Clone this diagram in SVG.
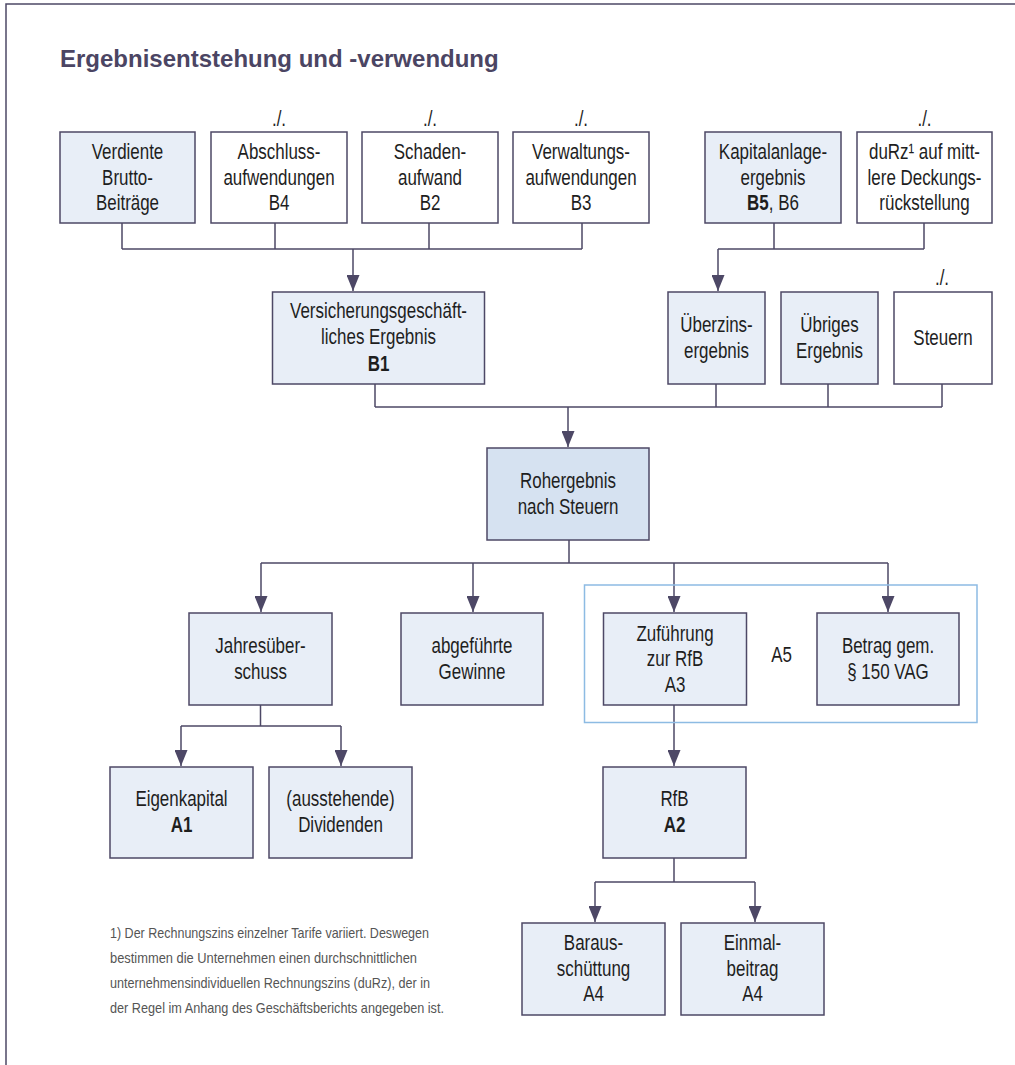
<svg xmlns="http://www.w3.org/2000/svg" width="1015" height="1065" viewBox="0 0 1015 1065">
<style>
.bx{stroke:#4d4866;stroke-width:1.5}
.b{fill:#e8eef7}
.w{fill:#ffffff}
.d{fill:#d6e2f1}
.t{font-family:"Liberation Sans",Arial,sans-serif;font-size:22px;fill:#1e1e1e;text-anchor:middle}
.bd{font-weight:bold}
.c{fill:none;stroke:#4d4866;stroke-width:1.5}
.a{marker-end:url(#arr)}
.fn{font-family:"Liberation Sans",Arial,sans-serif;font-size:15px;fill:#555555}
.ttl{font-family:"Liberation Sans",Arial,sans-serif;font-size:24px;font-weight:bold;fill:#4b4563}
</style>
<defs>
<marker id="arr" viewBox="0 0 16 13" refX="16" refY="6.5" markerWidth="16" markerHeight="13" markerUnits="userSpaceOnUse" orient="auto">
<path d="M0,0 L16,6.5 L0,13 z" fill="#4d4866"/>
</marker>
</defs>
<rect x="0" y="0" width="1015" height="1065" fill="#ffffff"/>
<path d="M6,1065 V4 H1015" fill="none" stroke="#4d4866" stroke-width="1.5"/>
<text class="ttl" x="60" y="67">Ergebnisentstehung und -verwendung</text>

<g id="connectors">
<path class="c" d="M122,223 V249 M275,223 V249 M429,223 V249 M582,223 V249 M122,249 H582"/>
<path class="c a" d="M353,249 V291"/>
<path class="c" d="M774,223 V249 M924,223 V249 M718,249 H924"/>
<path class="c a" d="M718,249 V291"/>
<path class="c" d="M375,384 V407 M716,384 V407 M828,384 V407 M942,384 V407 M375,407 H942"/>
<path class="c a" d="M568,407 V447"/>
<path class="c" d="M569,540 V563 M261,563 H888"/>
<path class="c a" d="M261,563 V612"/>
<path class="c a" d="M473,563 V612"/>
<path class="c a" d="M674,563 V612"/>
<path class="c a" d="M888,563 V612"/>
<path class="c" d="M260.5,705 V726 M181,726 H341"/>
<path class="c a" d="M181,726 V766"/>
<path class="c a" d="M341,726 V766"/>
<path class="c a" d="M674,705 V766"/>
<path class="c" d="M674,858 V882 M595,882 H755"/>
<path class="c a" d="M595,882 V922"/>
<path class="c a" d="M755,882 V922"/>
</g>

<g id="n-verdiente">
<rect class="bx b" x="60" y="132" width="135" height="91"/>
<text class="t" transform="translate(127.5 159) scale(.77 1)">Verdiente</text>
<text class="t" transform="translate(127.5 184.5) scale(.77 1)">Brutto-</text>
<text class="t" transform="translate(127.5 210) scale(.77 1)">Beiträge</text>
</g>
<g id="n-abschluss">
<text class="t" transform="translate(279 126) scale(.77 1)">./.</text>
<rect class="bx w" x="211" y="132" width="136" height="91"/>
<text class="t" transform="translate(279 159) scale(.77 1)">Abschluss-</text>
<text class="t" transform="translate(279 184.5) scale(.77 1)">aufwendungen</text>
<text class="t" transform="translate(279 210) scale(.77 1)">B4</text>
</g>
<g id="n-schaden">
<text class="t" transform="translate(430 126) scale(.77 1)">./.</text>
<rect class="bx w" x="362" y="132" width="136" height="91"/>
<text class="t" transform="translate(430 159) scale(.77 1)">Schaden-</text>
<text class="t" transform="translate(430 184.5) scale(.77 1)">aufwand</text>
<text class="t" transform="translate(430 210) scale(.77 1)">B2</text>
</g>
<g id="n-verwaltung">
<text class="t" transform="translate(581 126) scale(.77 1)">./.</text>
<rect class="bx w" x="513" y="132" width="136" height="91"/>
<text class="t" transform="translate(581 159) scale(.77 1)">Verwaltungs-</text>
<text class="t" transform="translate(581 184.5) scale(.77 1)">aufwendungen</text>
<text class="t" transform="translate(581 210) scale(.77 1)">B3</text>
</g>
<g id="n-kapitalanlage">
<rect class="bx b" x="705" y="132" width="136" height="91"/>
<text class="t" transform="translate(773 159) scale(.77 1)">Kapitalanlage-</text>
<text class="t" transform="translate(773 184.5) scale(.77 1)">ergebnis</text>
<text class="t" transform="translate(773 210) scale(.77 1)"><tspan class="bd">B5</tspan>, B6</text>
</g>
<g id="n-durz">
<text class="t" transform="translate(924.5 126) scale(.77 1)">./.</text>
<rect class="bx w" x="857" y="132" width="135" height="91"/>
<text class="t" transform="translate(924.5 159) scale(.77 1)">duRz¹ auf mitt-</text>
<text class="t" transform="translate(924.5 184.5) scale(.77 1)">lere Deckungs-</text>
<text class="t" transform="translate(924.5 210) scale(.77 1)">rückstellung</text>
</g>

<g id="n-versicherung">
<rect class="bx b" x="272.5" y="292" width="212" height="92"/>
<text class="t" transform="translate(378.5 318) scale(.77 1)">Versicherungsgeschäft-</text>
<text class="t" transform="translate(378.5 344) scale(.77 1)">liches Ergebnis</text>
<text class="t bd" transform="translate(378.5 370.5) scale(.77 1)">B1</text>
</g>
<g id="n-ueberzins">
<rect class="bx b" x="668" y="292" width="97" height="92"/>
<text class="t" transform="translate(716.5 332) scale(.77 1)">Überzins-</text>
<text class="t" transform="translate(716.5 358) scale(.77 1)">ergebnis</text>
</g>
<g id="n-uebriges">
<rect class="bx b" x="781" y="292" width="97" height="92"/>
<text class="t" transform="translate(829.5 332) scale(.77 1)">Übriges</text>
<text class="t" transform="translate(829.5 358) scale(.77 1)">Ergebnis</text>
</g>
<g id="n-steuern">
<text class="t" transform="translate(942 285) scale(.77 1)">./.</text>
<rect class="bx w" x="894" y="292" width="98" height="92"/>
<text class="t" transform="translate(943 345) scale(.77 1)">Steuern</text>
</g>

<g id="n-rohergebnis">
<rect class="bx d" x="487" y="448" width="162" height="92"/>
<text class="t" transform="translate(568 488) scale(.77 1)">Rohergebnis</text>
<text class="t" transform="translate(568 513.5) scale(.77 1)">nach Steuern</text>
</g>

<g id="n-jahres">
<rect class="bx b" x="189" y="613" width="143" height="92"/>
<text class="t" transform="translate(260.5 653) scale(.77 1)">Jahresüber-</text>
<text class="t" transform="translate(260.5 678.5) scale(.77 1)">schuss</text>
</g>
<g id="n-abgefuehrt">
<rect class="bx b" x="401" y="613" width="142" height="92"/>
<text class="t" transform="translate(472 653) scale(.77 1)">abgeführte</text>
<text class="t" transform="translate(472 678.5) scale(.77 1)">Gewinne</text>
</g>
<g id="n-a5">
<rect x="584.5" y="585" width="392.5" height="137.5" fill="none" stroke="#8dbbe3" stroke-width="1.5"/>
<text class="t" transform="translate(781.5 662) scale(.77 1)">A5</text>
</g>
<g id="n-zufuehrung">
<rect class="bx b" x="603.5" y="613" width="143" height="92"/>
<text class="t" transform="translate(675 640.5) scale(.77 1)">Zuführung</text>
<text class="t" transform="translate(675 666) scale(.77 1)">zur RfB</text>
<text class="t" transform="translate(675 691.5) scale(.77 1)">A3</text>
</g>
<g id="n-betrag">
<rect class="bx b" x="817" y="613" width="142" height="92"/>
<text class="t" transform="translate(888 653) scale(.77 1)">Betrag gem.</text>
<text class="t" transform="translate(888 678.5) scale(.77 1)">§ 150 VAG</text>
</g>

<g id="n-eigenkapital">
<rect class="bx b" x="110" y="767" width="143" height="91"/>
<text class="t" transform="translate(181.5 806) scale(.77 1)">Eigenkapital</text>
<text class="t bd" transform="translate(181.5 832) scale(.77 1)">A1</text>
</g>
<g id="n-dividenden">
<rect class="bx b" x="269" y="767" width="143" height="91"/>
<text class="t" transform="translate(340.5 806) scale(.77 1)">(ausstehende)</text>
<text class="t" transform="translate(340.5 832) scale(.77 1)">Dividenden</text>
</g>
<g id="n-rfb">
<rect class="bx b" x="603" y="767" width="143" height="91"/>
<text class="t" transform="translate(674.5 806) scale(.77 1)">RfB</text>
<text class="t bd" transform="translate(674.5 832) scale(.77 1)">A2</text>
</g>

<g id="n-barausschuettung">
<rect class="bx b" x="522" y="923" width="143" height="92"/>
<text class="t" transform="translate(593.5 950) scale(.77 1)">Baraus-</text>
<text class="t" transform="translate(593.5 975.5) scale(.77 1)">schüttung</text>
<text class="t" transform="translate(593.5 1001) scale(.77 1)">A4</text>
</g>
<g id="n-einmalbeitrag">
<rect class="bx b" x="681" y="923" width="143" height="92"/>
<text class="t" transform="translate(752.5 950) scale(.77 1)">Einmal-</text>
<text class="t" transform="translate(752.5 975.5) scale(.77 1)">beitrag</text>
<text class="t" transform="translate(752.5 1001) scale(.77 1)">A4</text>
</g>

<g id="footnote">
<text class="fn" x="110" y="938" textLength="319" lengthAdjust="spacingAndGlyphs">1) Der Rechnungszins einzelner Tarife variiert. Deswegen</text>
<text class="fn" x="110" y="963" textLength="307" lengthAdjust="spacingAndGlyphs">bestimmen die Unternehmen einen durchschnittlichen</text>
<text class="fn" x="110" y="988" textLength="320" lengthAdjust="spacingAndGlyphs">unternehmensindividuellen Rechnungszins (duRz), der in</text>
<text class="fn" x="110" y="1013" textLength="334" lengthAdjust="spacingAndGlyphs">der Regel im Anhang des Geschäftsberichts angegeben ist.</text>
</g>
</svg>
